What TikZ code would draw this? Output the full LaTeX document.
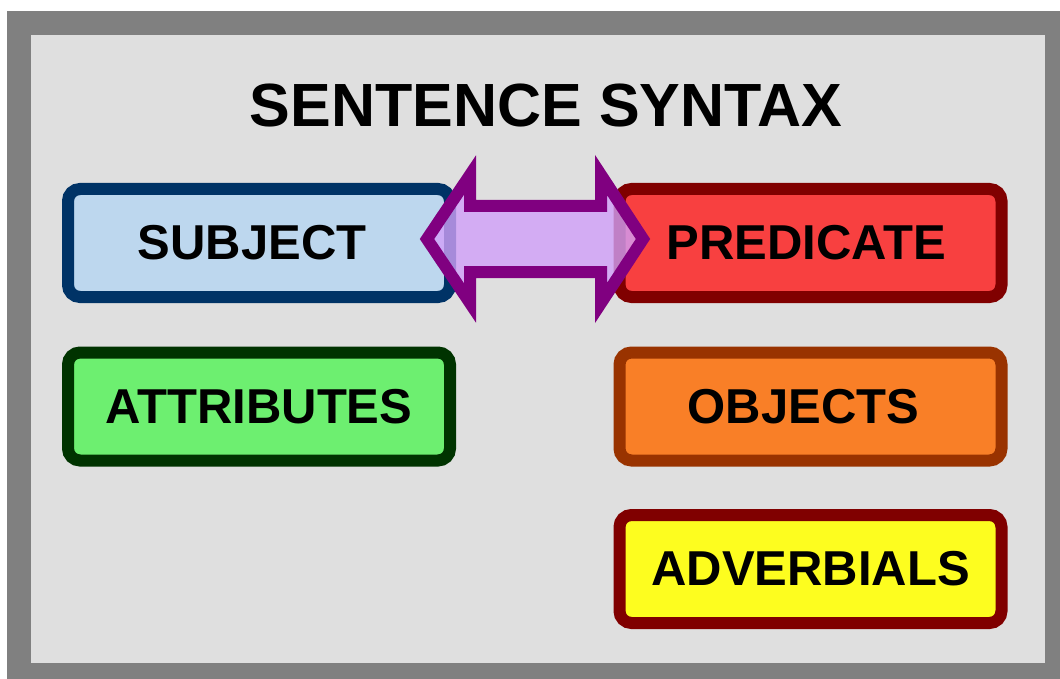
\documentclass[tikz,border=0pt]{standalone}
\usepackage{fontspec}
\setmainfont{Liberation Sans}
\definecolor{framegray}{HTML}{808080}
\definecolor{panelgray}{HTML}{DFDFDF}
\definecolor{subjfill}{HTML}{BDD7EE}
\definecolor{subjdraw}{HTML}{003366}
\definecolor{predfill}{HTML}{F84040}
\definecolor{preddraw}{HTML}{800000}
\definecolor{attrfill}{HTML}{6DEF70}
\definecolor{attrdraw}{HTML}{003300}
\definecolor{objfill}{HTML}{F97F27}
\definecolor{objdraw}{HTML}{993300}
\definecolor{advfill}{HTML}{FDFD1F}
\definecolor{advdraw}{HTML}{800000}
\definecolor{arrowfill}{HTML}{D0A0F8}
\definecolor{arrowdraw}{HTML}{800080}
\begin{document}
\begin{tikzpicture}[x=1pt,y=-1pt,
  box/.style={rectangle, rounded corners=12pt, line width=12pt,
    minimum width=382pt, minimum height=108pt, inner sep=0pt,
    font=\fontsize{49}{58}\selectfont\bfseries},
  titlestyle/.style={inner sep=0pt, font=\fontsize{61}{70}\selectfont\bfseries},
  dblarrow/.style={line width=12pt, draw=arrowdraw, fill=arrowfill, fill opacity=0.8, line join=miter}]
\useasboundingbox (0,0) rectangle (1060,679);
\fill[white] (0,0) rectangle (1060,679);
\fill[framegray] (7,11) rectangle (1060,679);
\fill[panelgray] (31,35) rectangle (1045,663);
\node[titlestyle] (title) at (546,106) {SENTENCE SYNTAX};
\node[box, draw=subjdraw, fill=subjfill] (subject) at (259,243) {SUBJECT\hspace*{14pt}};
\node[box, draw=preddraw, fill=predfill] (predicate) at (810.5,243) {PREDICATE\hspace*{8pt}};
\node[box, draw=attrdraw, fill=attrfill] (attributes) at (259,406.5) {ATTRIBUTES};
\node[box, draw=objdraw, fill=objfill] (objects) at (810.5,406.5) {OBJECTS\hspace*{14pt}};
\node[box, draw=advdraw, fill=advfill] (adverbials) at (810.5,569) {ADVERBIALS};
\draw[dblarrow] (427,239) -- (470,175) -- (470,206) -- (601,206) -- (601,175)
  -- (643,239) -- (601,303) -- (601,272) -- (470,272) -- (470,303) -- cycle;
\end{tikzpicture}
\end{document}
